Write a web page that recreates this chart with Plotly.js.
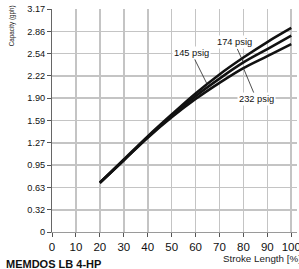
<!DOCTYPE html>
<html>
<head>
<meta charset="utf-8">
<script src="https://cdn.plot.ly/plotly-3.0.1.min.js"></script>
<style>html,body{margin:0;padding:0;background:#fff;}#chart{width:299px;height:269px;}</style>
</head>
<body>
<div id="chart"></div>
<script>
var strokeLength = [20, 30, 40, 50, 60, 70, 80, 90, 100];
var cap145 = [0.70, 1.03, 1.36, 1.67, 1.97, 2.24, 2.48, 2.70, 2.90];
var cap174 = [0.70, 1.02, 1.35, 1.65, 1.93, 2.18, 2.41, 2.60, 2.79];
var cap232 = [0.70, 1.02, 1.34, 1.63, 1.89, 2.12, 2.33, 2.50, 2.67];
var xTicks = [0, 10, 20, 30, 40, 50, 60, 70, 80, 90, 100];
var yTickLabels = ["0", "0.32", "0.63", "0.95", "1.27", "1.59", "1.90", "2.22", "2.54", "2.86", "3.17"];
var yMax = 3.17;
var yTickVals = yTickLabels.map(function (t, i) { return i * yMax / 10; });

var FONT = "Liberation Sans, Arial, sans-serif";

function curve(y) {
  return {x: strokeLength, y: y, mode: "lines", line: {color: "#111", width: 2.6, shape: "spline"}, hoverinfo: "skip"};
}

var data = [curve(cap145), curve(cap174), curve(cap232)];

var annFont = {family: FONT, size: 9.3, color: "#111"};
var layout = {
  width: 299, height: 269,
  margin: {l: 52, r: 2, t: 9, b: 37, pad: 0},
  paper_bgcolor: "#fff", plot_bgcolor: "#fff",
  showlegend: false,
  xaxis: {
    range: [0, 102.4], tickvals: xTicks, ticktext: xTicks.map(String),
    showgrid: true, gridcolor: "#c4c4c4", gridwidth: 1.6, zeroline: false,
    showline: true, linecolor: "#9a9a9a", linewidth: 1,
    ticks: "outside", ticklen: 4, tickcolor: "#555", tickwidth: 1,
    ticklabeloverflow: "allow",
    tickfont: {family: FONT, size: 11.5, color: "#111"}, fixedrange: true
  },
  yaxis: {
    range: [0, yMax], tickvals: yTickVals, ticktext: yTickLabels,
    showgrid: true, gridcolor: "#c4c4c4", gridwidth: 1.6, zeroline: false,
    showline: true, linecolor: "#666", linewidth: 1,
    ticks: "outside", ticklen: 4, tickcolor: "#555", tickwidth: 1,
    ticklabeloverflow: "allow",
    tickfont: {family: FONT, size: 9.2, color: "#111"}, fixedrange: true
  },
  annotations: [
    {xref: "paper", yref: "paper", x: -0.165, y: 0.925, text: "Capacity (gph)", textangle: -90,
     showarrow: false, xanchor: "center", yanchor: "middle", font: {family: FONT, size: 6.3, color: "#222"}},
    {xref: "paper", yref: "paper", x: 1.025, y: -0.117, text: "Stroke Length [%]",
     showarrow: false, xanchor: "right", yanchor: "middle", font: {family: FONT, size: 9.8, color: "#222"}},
    {xref: "paper", yref: "paper", x: -0.195, y: -0.142, text: "<b>MEMDOS LB 4-HP</b>",
     showarrow: false, xanchor: "left", yanchor: "middle", font: {family: FONT, size: 11, color: "#111"}},
    {x: 65, y: 2.09, text: "145 psig", showarrow: true, arrowhead: 0, arrowwidth: 0.8, arrowcolor: "#222",
     ax: -16, ay: -32, bgcolor: "#fff", borderpad: 1, font: annFont},
    {x: strokeLength[6], y: cap174[6], text: "174 psig", showarrow: true, arrowhead: 0, arrowwidth: 0.8, arrowcolor: "#222",
     ax: -9, ay: -20, bgcolor: "#fff", borderpad: 1, font: annFont},
    {x: strokeLength[6], y: cap232[6], text: "232 psig", showarrow: true, arrowhead: 0, arrowwidth: 0.8, arrowcolor: "#222",
     ax: 13, ay: 31, bgcolor: "#fff", borderpad: 1, font: annFont}
  ]
};

Plotly.newPlot("chart", data, layout, {displayModeBar: false, staticPlot: true});
</script>
</body>
</html>
